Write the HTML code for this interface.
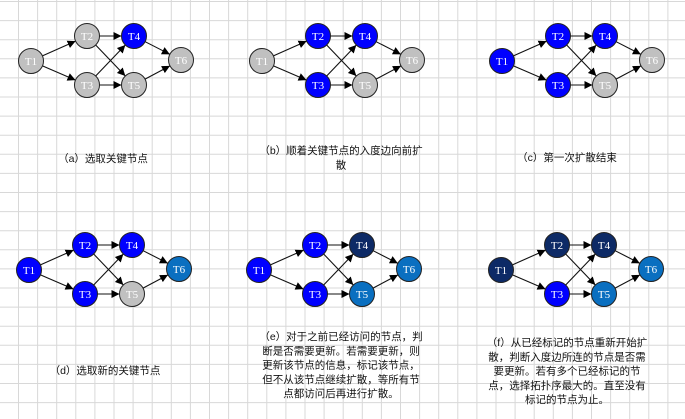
<!DOCTYPE html>
<html><head><meta charset="utf-8"><style>
html,body{margin:0;padding:0;background:#fff;}
svg{display:block;font-family:"Liberation Serif","Noto Serif CJK SC",serif;}
.cap{font-family:"Liberation Sans","Noto Sans CJK SC",sans-serif;font-size:10.5px;fill:#111;text-anchor:middle;}
</style></head><body>
<svg id="s" width="685" height="419" viewBox="0 0 685 419">
<defs><marker id="ar" viewBox="0 0 10 10" refX="10" refY="5" markerWidth="8" markerHeight="8" orient="auto" markerUnits="userSpaceOnUse"><path d="M0,0L10,5L0,10z" fill="#000"/></marker></defs>
<g id="grid"></g>
<g id="panels"></g>
</svg>
<script>
const nodeNames=["T1","T2","T3","T4","T5","T6"];
const edges=[[0,1],[0,2],[1,3],[1,4],[2,3],[2,4],[3,5],[4,5]];
const panelStates=[
 ["g","g","g","b","g","g"],
 ["g","b","b","b","g","g"],
 ["b","b","b","b","g","g"],
 ["b","b","b","b","g","m"],
 ["b","b","b","n","m","m"],
 ["n","n","b","n","m","m"]];
const captions=[
 ["（a）选取关键节点"],
 ["（b）顺着关键节点的入度边向前扩","散"],
 ["（c）第一次扩散结束"],
 ["（d）选取新的关键节点"],
 ["（e）对于之前已经访问的节点，判","断是否需要更新。若需要更新，则","更新该节点的信息，标记该节点，","但不从该节点继续扩散，等所有节","点都访问后再进行扩散。"],
 ["（f）从已经标记的节点重新开始扩","散，判断入度边所连的节点是否需","要更新。若有多个已经标记的节","点，选择拓扑序最大的。直至没有","标记的节点为止。"]];
const NS="http://www.w3.org/2000/svg";
const colors={g:"#c0c0c0",b:"#0000ff",n:"#0d2a66",m:"#0a6fc0"};
function mk(t,a,p){const e=document.createElementNS(NS,t);for(const k in a)e.setAttribute(k,a[k]);p.appendChild(e);return e;}
const grid=document.getElementById("grid");
for(let x=18.5;x<685;x+=19.1){const l=mk("line",{x1:x,y1:0,x2:x,y2:419,stroke:"#d8d8d8","stroke-width":1},grid);}
for(let y=1.5;y<419;y+=19.1){const l=mk("line",{x1:0,y1:y,x2:685,y2:y,stroke:"#d8d8d8","stroke-width":1},grid);}
const rel=[[0,0],[56,-25],[56,24],[103,-25],[103,24],[150,-1]];
const origins=[[31,61],[262,61],[502,61],[29,270],[259,270],[501,270]];
const capY=[158,150,157,370,336,342];
const capX=[103,341,567,105,341,567];
const R=12.5;
const panels=document.getElementById("panels");
panelStates.forEach((st,pi)=>{
 const g=mk("g",{},panels);
 
 
 const [ox,oy]=origins[pi];
 const pos=rel.map(r=>[ox+r[0],oy+r[1]]);
 edges.forEach(([a,b])=>{
  const [x1,y1]=pos[a],[x2,y2]=pos[b];const dx=x2-x1,dy=y2-y1,d=Math.hypot(dx,dy);
  const l=mk("line",{x1:x1+dx/d*R,y1:y1+dy/d*R,x2:x2-dx/d*R,y2:y2-dy/d*R,stroke:"#111","stroke-width":1.1,"marker-end":"url(#ar)"},g);
  
  
 });
 st.forEach((c,i)=>{
  const ng=mk("g",{},g);
  
  
  mk("circle",{cx:pos[i][0],cy:pos[i][1],r:R,fill:colors[c],stroke:"#222","stroke-width":1},ng);
  const t=mk("text",{x:pos[i][0],y:pos[i][1]+4,"text-anchor":"middle","font-size":"11",fill:"#fff"},ng);
  t.textContent=nodeNames[i];
 });
 const cg=mk("g",{},g);
 
 
 captions[pi].forEach((s,li)=>{
  const t=mk("text",{x:capX[pi],y:capY[pi]+4+li*14.3,class:"cap"},cg);
  t.textContent=s;
 });
});
</script>
</body></html>
